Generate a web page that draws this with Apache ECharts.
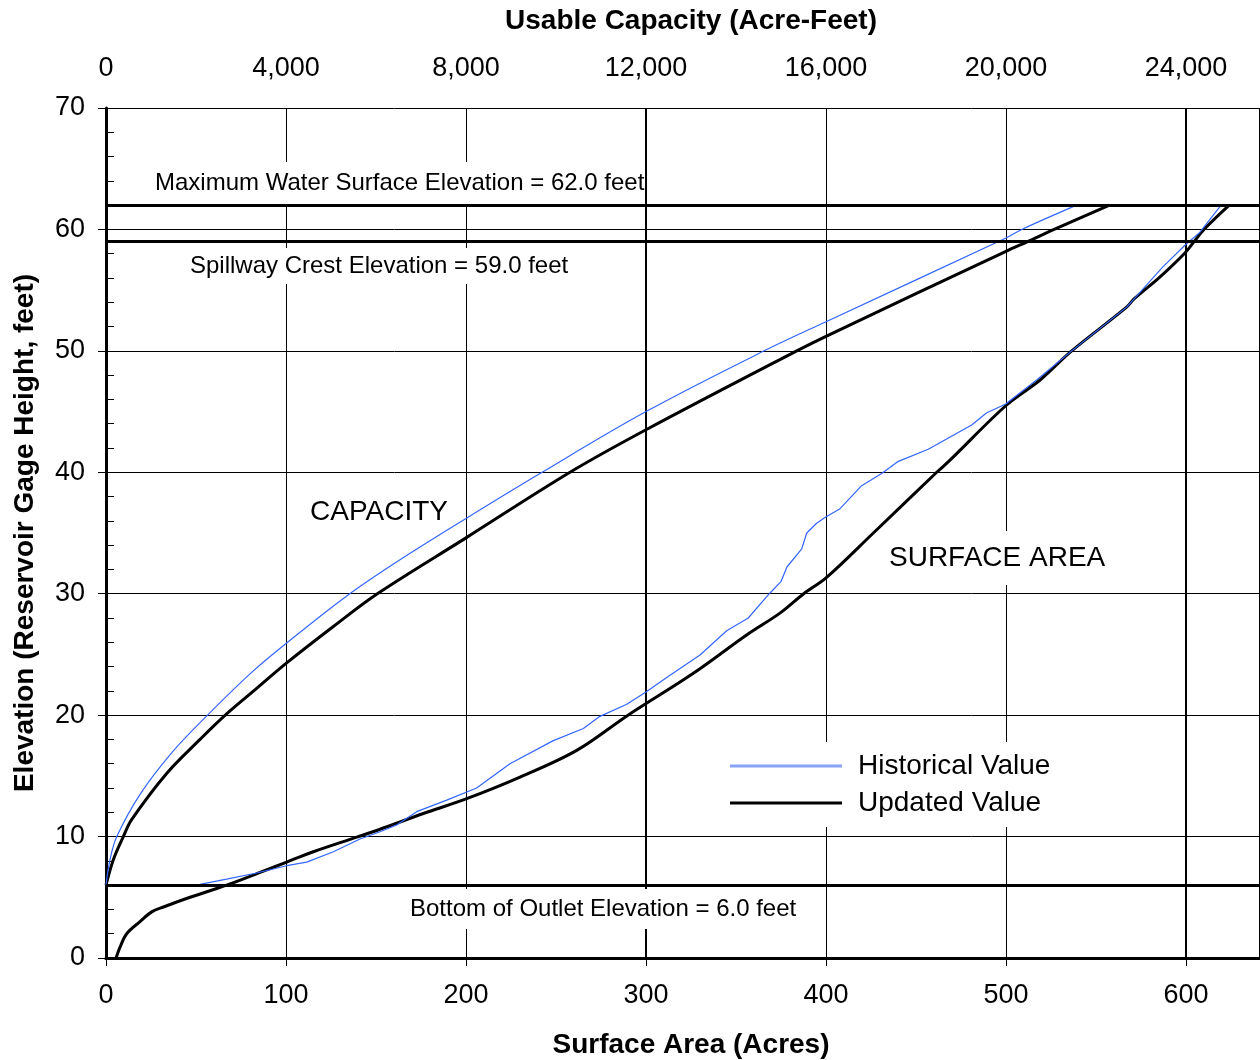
<!DOCTYPE html>
<html>
<head>
<meta charset="utf-8">
<script src="https://cdn.jsdelivr.net/npm/echarts@6/dist/echarts.min.js"></script>
<style>
  html, body { margin: 0; padding: 0; background: #fff; }
  #chart { width: 1260px; height: 1060px; }
</style>
</head>
<body>
<div id="chart"></div>
<script>
// Elevation–area–capacity curves for the reservoir.
// Capacity curves use the top axis (acre-feet), surface area curves the bottom axis (acres).

// Usable capacity, historical table
const capHistElev = [6, 8.1, 10, 13.5, 16.9, 19.9, 23.4, 25.9, 29.9, 32.8, 36.2, 39.9, 45, 49.9, 52.4, 59.3, 60, 62];
const capHistAF   = [0, 89, 240, 760, 1459, 2230, 3200, 4000, 5380, 6533, 8000, 9644, 12000, 14570, 16000, 20000, 20350, 21570];

// Usable capacity, updated table
const capNewElev = [6, 8.1, 10, 11.4, 15.2, 18, 20, 22.2, 24.3, 27.3, 30, 34.6, 40, 43.5, 50, 51.2, 58.2, 59, 60, 62];
const capNewAF   = [0, 163, 385, 570, 1348, 2089, 2650, 3348, 4015, 5052, 6030, 8000, 10311, 12000, 15350, 16000, 20000, 20480, 21070, 22300];

// Surface area, historical table
const areaHistElev = [6.07, 6.5, 7, 7.6, 7.9, 8.75, 9.8, 10.4, 10.95, 12.05,
  13, 14, 16, 17.9, 18.9, 19.9, 20.9, 21.9, 23.1, 24.95,
  26.95, 28, 30, 31, 32.2, 33.7, 35, 35.8, 36.3, 37,
  38.9, 39.9, 40.9, 41.9, 43.9, 44.9, 45.6, 47.6, 50, 53.6,
  54.3, 56.9, 58.7, 59.7, 62];
const areaHistAc = [52.2, 67, 83.7, 100.4, 111.5, 126.3, 141.1, 152.2, 161.5, 172.6,
  189.3, 205.9, 224.4, 248.5, 265.2, 274.4, 289.3, 300, 311.5, 330,
  344.8, 356.8, 368.5, 375, 378.3, 386.5, 389.3, 394.8, 399.6, 407.8,
  419.8, 430.9, 440.2, 456.8, 480.9, 489.3, 499.6, 517, 536.5, 567,
  571.3, 587, 599.4, 607.3, 619.5];

// Surface area, updated table
const areaNewElev = [0, 0.9, 2, 3, 3.8, 4.2, 5, 6, 7.05, 7.9,
  8.75, 9.95, 10.6, 11.9, 13.1, 14.9, 17.1, 20, 23.45,
  26.6, 28.4, 30, 31.3, 35, 40, 41, 45.5, 47.6, 50,
  53.6, 54.3, 56.1, 58, 59, 60, 62];
const areaNewAc = [5.6, 7.8, 11.5, 18.9, 25.4, 31.9, 46.7, 67, 85.6, 100.4,
  115.2, 139.3, 152.2, 176.3, 200, 230, 261.5, 290, 326.3,
  355.9, 374.4, 387.6, 400, 426.3, 461.5, 468.9, 500, 518.9, 536.5,
  567, 571.3, 585.6, 599, 604.5, 610, 624];

// Key reservoir elevations (feet)
const refElevations = [62, 59, 6];

// Axis scales
const areaTicks = [0, 100, 200, 300, 400, 500, 600];
const areaMax = 641.1;          // plot runs a little past 600 acres
const afPerAcre = 40;           // 4,000 AF on the top scale lines up with 100 acres

const FONT = '"Liberation Sans", Arial, Helvetica, sans-serif';
const BLUE = '#3366ff';

const zip = (xs, ys) => xs.map((x, i) => [x, ys[i]]);

const chart = echarts.init(document.getElementById('chart'), null, { renderer: 'canvas' });

const tickText = { fontFamily: FONT, fontSize: 27, color: '#000' };
const titleText = { fontFamily: FONT, fontSize: 28, fontWeight: 'bold', color: '#000' };

// Text note on a white box; x is where the lettering starts
function note(text, x, y, size, pad) {
  return {
    type: 'text', z: 100, silent: true,
    style: {
      text: text, x: x - pad[3], y: y,
      font: size + 'px ' + FONT, fill: '#000',
      align: 'left', verticalAlign: 'middle',
      backgroundColor: '#fff', padding: pad
    }
  };
}

const option = {
  animation: false,
  backgroundColor: '#fff',
  grid: { left: 106, right: 0, top: 108, bottom: 102, containLabel: false, outerBoundsMode: 'none' },
  xAxis: [
    {
      type: 'value', position: 'bottom', min: 0, max: areaMax, interval: 100,
      axisLine: { show: true, lineStyle: { color: '#000', width: 3 } },
      axisTick: { show: true, length: 8, lineStyle: { color: '#000', width: 1 } },
      axisLabel: Object.assign({ margin: 24, showMaxLabel: false,
        formatter: v => areaTicks.includes(v) ? String(v) : '' }, tickText),
      splitLine: { show: true, lineStyle: { color: '#000', width: 1 } },
      name: 'Surface Area (Acres)', nameLocation: 'middle', nameGap: 73,
      nameTextStyle: Object.assign({ padding: [0, 0, 0, 16] }, titleText)
    },
    {
      type: 'value', position: 'top', min: 0, max: areaMax * afPerAcre, interval: 4000,
      axisLine: { show: true, lineStyle: { color: '#000', width: 3 } },
      axisTick: { show: true, length: 8, lineStyle: { color: '#000', width: 1 } },
      axisLabel: Object.assign({ margin: 26, showMaxLabel: false,
        formatter: v => (v % 4000 === 0) ? v.toLocaleString('en-US') : '' }, tickText),
      splitLine: { show: false },
      name: 'Usable Capacity (Acre-Feet)', nameLocation: 'middle', nameGap: 73,
      nameTextStyle: Object.assign({ padding: [0, 0, 0, 16] }, titleText)
    },
    {
      // heavier guide lines every 300 acres
      type: 'value', position: 'bottom', min: 0, max: areaMax, interval: 300,
      axisLine: { show: false }, axisTick: { show: false }, axisLabel: { show: false },
      splitLine: { show: true, lineStyle: { color: '#000', width: 2 } }
    }
  ],
  yAxis: [
    {
      type: 'value', position: 'left', min: 0, max: 70, interval: 10,
      axisLine: { show: true, lineStyle: { color: '#000', width: 3 } },
      axisTick: { show: true, length: 8, lineStyle: { color: '#000', width: 1 } },
      axisLabel: Object.assign({ margin: 21 }, tickText),
      splitLine: { show: true, lineStyle: { color: '#000', width: 1 } },
      name: 'Elevation (Reservoir Gage Height, feet)', nameLocation: 'middle',
      nameGap: 67, nameRotate: 90, nameTextStyle: titleText
    },
    {
      // 2-ft minor ticks drawn inside the plot
      type: 'value', position: 'left', min: 0, max: 70, interval: 2,
      axisLine: { show: false },
      axisTick: { show: true, inside: true, length: 8, lineStyle: { color: '#000', width: 1 } },
      axisLabel: { show: false }, splitLine: { show: false }
    }
  ],
  legend: {
    orient: 'vertical', left: 720, top: 742, padding: 10, itemGap: 9,
    itemWidth: 112, itemHeight: 3, backgroundColor: '#fff', selectedMode: false,
    textStyle: { fontFamily: FONT, fontSize: 28, color: '#000', padding: [0, 0, 0, 11] },
    data: [
      { name: 'Historical Value', icon: 'rect', itemStyle: { color: '#86a3f5' } },
      { name: 'Updated Value', icon: 'rect', itemStyle: { color: '#000' } }
    ]
  },
  series: [
    {
      name: 'Historical Value', type: 'line', xAxisIndex: 1, yAxisIndex: 0,
      data: zip(capHistAF, capHistElev), showSymbol: false, symbol: 'none', smooth: 0.35,
      lineStyle: { color: BLUE, width: 1.2 }, itemStyle: { color: BLUE }, z: 3
    },
    {
      name: 'Updated Value', type: 'line', xAxisIndex: 1, yAxisIndex: 0,
      data: zip(capNewAF, capNewElev), showSymbol: false, symbol: 'none', smooth: 0.35,
      lineStyle: { color: '#000', width: 3 }, itemStyle: { color: '#000' }, z: 2
    },
    {
      name: 'Historical Value', type: 'line', xAxisIndex: 0, yAxisIndex: 0,
      data: zip(areaHistAc, areaHistElev), showSymbol: false, symbol: 'none',
      lineStyle: { color: BLUE, width: 1.2 }, itemStyle: { color: BLUE }, z: 3
    },
    {
      name: 'Updated Value', type: 'line', xAxisIndex: 0, yAxisIndex: 0,
      data: zip(areaNewAc, areaNewElev), showSymbol: false, symbol: 'none', smooth: 0.35,
      lineStyle: { color: '#000', width: 3 }, itemStyle: { color: '#000' }, z: 2,
      markLine: {
        silent: true, symbol: ['none', 'none'], label: { show: false },
        lineStyle: { color: '#000', width: 3, type: 'solid' },
        data: refElevations.map(v => ({ yAxis: v }))
      }
    }
  ],
  graphic: [
    note('Maximum Water Surface Elevation = 62.0 feet', 155, 183, 24, [9, 0, 9, 6]),
    note('Spillway Crest Elevation = 59.0 feet', 190, 266, 24, [6, 6, 6, 6]),
    note('Bottom of Outlet Elevation = 6.0 feet', 410, 909, 24, [8, 6, 8, 6]),
    note('CAPACITY', 310, 512, 28, [0, 0, 0, 0]),
    note('SURFACE AREA', 889, 558, 28, [13, 8, 13, 8])
  ]
};

chart.setOption(option);
</script>
</body>
</html>
